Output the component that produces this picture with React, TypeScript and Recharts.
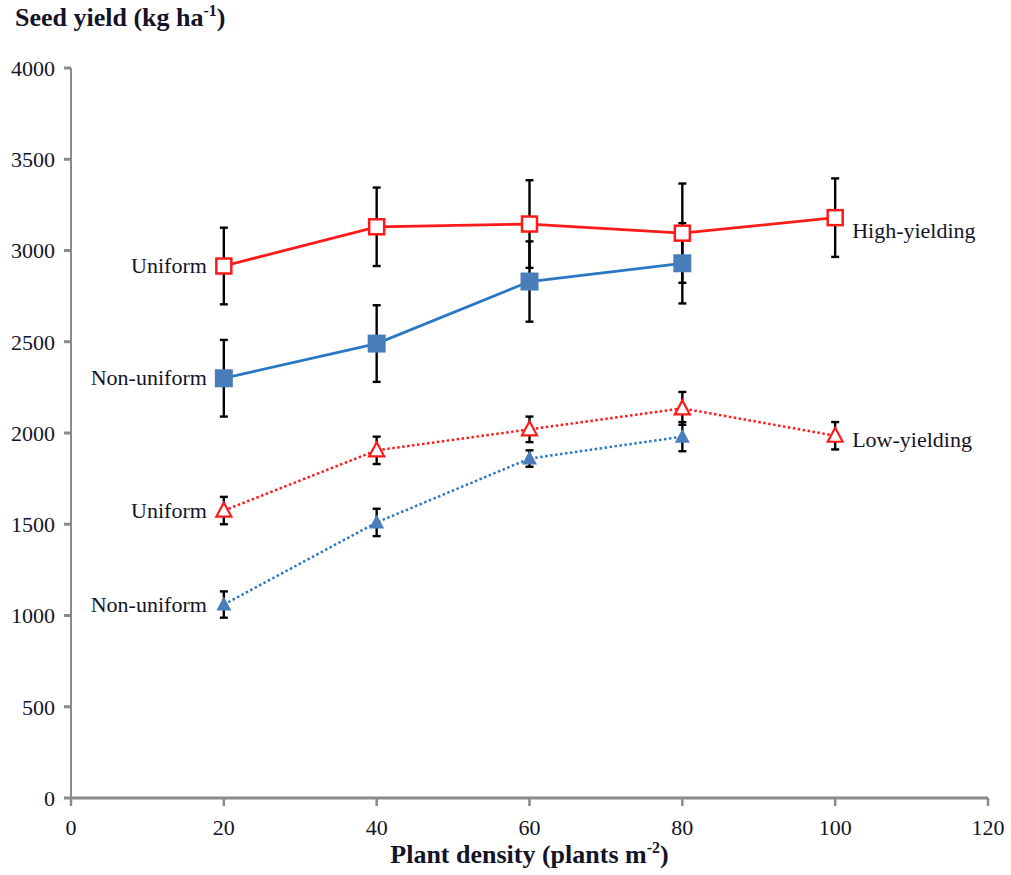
import React from 'react'
import {
  LineChart, Line, XAxis, YAxis, ErrorBar,
} from 'recharts'

const densities = [20, 40, 60, 80, 100]
const highUniform = [2915, 3130, 3145, 3095, 3180]
const highUniformErr = [210, 215, 240, 272, 215]
const highNonUniform = [2300, 2490, 2830, 2930]
const highNonUniformErr = [210, 210, 220, 220]
const lowUniform = [1575, 1905, 2020, 2135, 1985]
const lowUniformErr = [75, 75, 70, 90, 75]
const lowNonUniform = [1060, 1510, 1860, 1980]
const lowNonUniformErr = [72, 75, 45, 80]

const xTicks = [0, 20, 40, 60, 80, 100, 120]
const yTicks = [0, 500, 1000, 1500, 2000, 2500, 3000, 3500, 4000]

const FONT = '"Liberation Serif", "Times New Roman", serif'
const INK = '#141428'
const RED = '#ff1a1a'
const BLUE_LINE = '#2a78c4'
const BLUE_MARK = '#4a7ebb'
const AXIS = '#8a8a8a'

const toRows = (vals: number[], errs: number[]) =>
  vals.map((y, i) => ({ x: densities[i], y, err: errs[i] }))

const openSquare = (p: any) => (
  <rect key={p.key} x={p.cx - 7.5} y={p.cy - 7.5} width={15} height={15}
    fill="#fff" stroke={RED} strokeWidth={2.5} />
)
const filledSquare = (p: any) => (
  <rect key={p.key} x={p.cx - 9} y={p.cy - 9} width={18} height={18} fill={BLUE_MARK} />
)
const openTriangle = (p: any) => (
  <path key={p.key} d={`M${p.cx},${p.cy - 8} L${p.cx + 7.5},${p.cy + 6} L${p.cx - 7.5},${p.cy + 6} Z`}
    fill="#fff" stroke={RED} strokeWidth={2.2} />
)
const filledTriangle = (p: any) => (
  <path key={p.key} d={`M${p.cx},${p.cy - 8} L${p.cx + 7.5},${p.cy + 6} L${p.cx - 7.5},${p.cy + 6} Z`}
    fill={BLUE_MARK} />
)

// left label at first point, optional right label at last point
const sideLabels = (left: string, right: string | null, count: number, rightDy = 0) => (p: any) => {
  if (p.index === 0) {
    return (
      <text key={`l${p.index}`} x={p.x - 17} y={p.y} dy={7} textAnchor="end"
        fontFamily={FONT} fontSize={22} fill={INK}>{left}</text>
    )
  }
  if (right && p.index === count - 1) {
    return (
      <text key={`r${p.index}`} x={p.x + 17} y={p.y + rightDy} dy={7} textAnchor="start"
        fontFamily={FONT} fontSize={22} fill={INK}>{right}</text>
    )
  }
  return <g key={`n${p.index}`} />
}

const errProps = { dataKey: 'err', direction: 'y' as const, width: 4, stroke: '#000', strokeWidth: 2.4 }

export default function App() {
  const tickStyle = { fontFamily: FONT, fontSize: 22, fill: INK }
  const titleStyle = { position: 'absolute' as const, fontFamily: FONT, fontSize: 26, fontWeight: 700, color: INK, lineHeight: '30px' }
  const supStyle = { fontSize: 16, lineHeight: 0 }
  return (
    <div style={{ position: 'relative', width: 1011, height: 875, background: '#fff' }}>
      <style>{'body{margin:0}'}</style>
      <div style={{ ...titleStyle, left: 15, top: 3 }}>
        Seed yield (kg ha<sup style={supStyle}>-1</sup>)
      </div>
      <div style={{ ...titleStyle, left: 71, width: 917, top: 840, textAlign: 'center' }}>
        Plant density (plants m<sup style={supStyle}>-2</sup>)
      </div>
      <LineChart width={1011} height={875} margin={{ top: 68, right: 23, left: 0, bottom: 0 }}>
        <XAxis type="number" dataKey="x" domain={[0, 120]} ticks={xTicks} height={77}
          axisLine={{ stroke: AXIS, strokeWidth: 3 }} tickLine={{ stroke: AXIS, strokeWidth: 2.5 }}
          tickSize={8} tickMargin={13} tick={tickStyle} allowDuplicatedCategory={false} />
        <YAxis type="number" domain={[0, 4000]} ticks={yTicks} width={71}
          axisLine={{ stroke: AXIS, strokeWidth: 2 }} tickLine={{ stroke: AXIS, strokeWidth: 3 }}
          tickSize={7} tickMargin={9} tick={tickStyle} />
        <Line data={toRows(lowNonUniform, lowNonUniformErr)} dataKey="y" stroke={BLUE_LINE} strokeWidth={2.5}
          strokeDasharray="2.5 2.5" dot={filledTriangle} isAnimationActive={false}
          label={sideLabels('Non-uniform', null, lowNonUniform.length)}>
          <ErrorBar {...errProps} />
        </Line>
        <Line data={toRows(lowUniform, lowUniformErr)} dataKey="y" stroke={RED} strokeWidth={2.5}
          strokeDasharray="2.5 2.5" dot={openTriangle} isAnimationActive={false}
          label={sideLabels('Uniform', 'Low-yielding', lowUniform.length, 4)}>
          <ErrorBar {...errProps} />
        </Line>
        <Line data={toRows(highNonUniform, highNonUniformErr)} dataKey="y" stroke={BLUE_LINE} strokeWidth={2.8}
          dot={filledSquare} isAnimationActive={false}
          label={sideLabels('Non-uniform', null, highNonUniform.length)}>
          <ErrorBar {...errProps} />
        </Line>
        <Line data={toRows(highUniform, highUniformErr)} dataKey="y" stroke={RED} strokeWidth={2.8}
          dot={openSquare} isAnimationActive={false}
          label={sideLabels('Uniform', 'High-yielding', highUniform.length, 13)}>
          <ErrorBar {...errProps} />
        </Line>
      </LineChart>
    </div>
  )
}
